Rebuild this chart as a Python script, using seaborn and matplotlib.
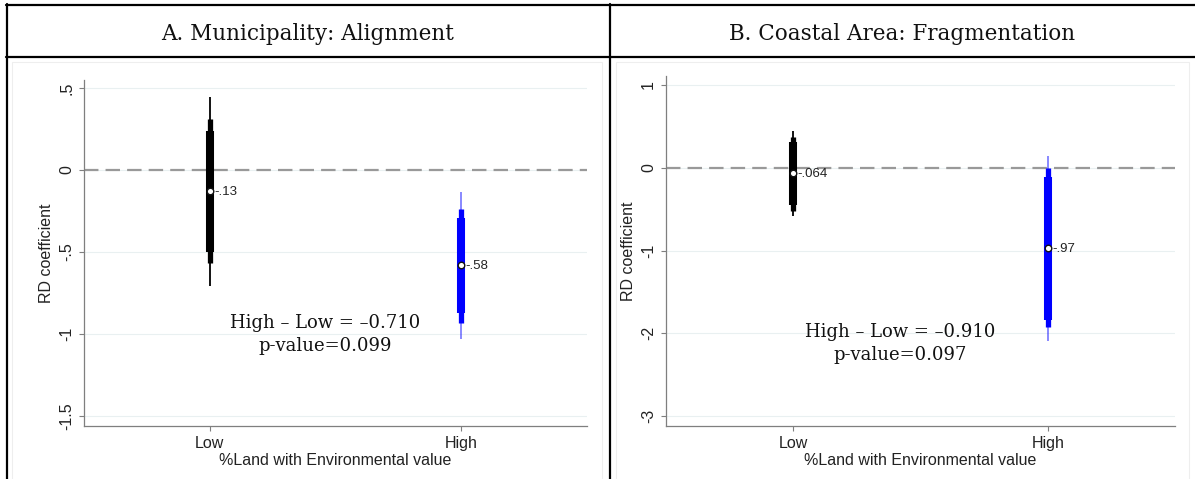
import numpy as np
import pandas as pd
import matplotlib
matplotlib.use("Agg")
import matplotlib.pyplot as plt
import seaborn as sns
from matplotlib.lines import Line2D
from matplotlib.patches import Rectangle

# categories on the x axis
groups = ["Low", "High"]
group_colors = ["#000000", "#0000ff"]
thin_alpha = [1.0, 0.5]

# Panel A: Municipality, Alignment (point estimate + 99/95/90 intervals)
a_coef = [-0.13, -0.58]
a_lo99 = [-0.707, -1.03]
a_hi99 = [0.445, -0.134]
a_lo95 = [-0.567, -0.933]
a_hi95 = [0.31, -0.238]
a_lo90 = [-0.50, -0.872]
a_hi90 = [0.238, -0.293]
a_point_labels = ["-.13", "-.58"]
a_yticks = [0.5, 0, -0.5, -1, -1.5]
a_yticklabels = [".5", "0", "-.5", "-1", "-1.5"]
a_ylim = (-1.561, 0.549)
a_note = ["High \u2013 Low = \u20130.710", "p-value=0.099"]
a_note_y = [-0.963, -1.104]
a_title = "A. Municipality: Alignment"

# Panel B: Coastal Area, Fragmentation
b_coef = [-0.064, -0.97]
b_lo99 = [-0.58, -2.09]
b_hi99 = [0.44, 0.145]
b_lo95 = [-0.52, -1.93]
b_hi95 = [0.37, 0.0]
b_lo90 = [-0.45, -1.84]
b_hi90 = [0.31, -0.11]
b_point_labels = ["-.064", "-.97"]
b_yticks = [1, 0, -1, -2, -3]
b_yticklabels = ["1", "0", "-1", "-2", "-3"]
b_ylim = (-3.121, 1.109)
b_note = ["High \u2013 Low = \u20130.910", "p-value=0.097"]
b_note_y = [-2.04, -2.32]
b_title = "B. Coastal Area: Fragmentation"

W, H = 1195, 479
sns.set_style("white")
plt.rcParams["font.family"] = ["Liberation Sans", "DejaVu Sans"]

fig = plt.figure(figsize=(W / 100, H / 100), dpi=100)
fig.patch.set_facecolor("white")

GRID = "#e9f0f1"
SPINE = "#7f7f7f"


def draw_panel(ax, coef, lo99, hi99, lo95, hi95, lo90, hi90, plabels,
               yticks, yticklabels, ylim, note, note_y, note_x):
    df = pd.DataFrame({"group": groups, "coef": coef})
    xpos = np.arange(len(groups))

    for y in yticks:
        ax.axhline(y, color=GRID, lw=0.8, zorder=0)
    ax.axhline(0, color="#999999", lw=1.6, ls=(0, (6.5, 3.2)), zorder=1)

    for i in xpos:
        c = group_colors[i]
        ax.vlines(i, lo99[i], hi99[i], color=c, alpha=thin_alpha[i], lw=1.3, zorder=2)
        ax.vlines(i, lo95[i], hi95[i], color=c, lw=3.8, zorder=3)
        ax.vlines(i, lo90[i], hi90[i], color=c, lw=5.8, zorder=4)

    sns.scatterplot(data=df, x="group", y="coef", ax=ax, s=22, color="white",
                    edgecolor="#111111", linewidth=1.0, zorder=5, legend=False)

    for i in xpos:
        ax.annotate(plabels[i], (i, coef[i]), xytext=(3.2, -0.5),
                    textcoords="offset points", ha="left", va="center",
                    fontsize=9.5, color="#222222", zorder=6)

    for txt, y in zip(note, note_y):
        ax.text(note_x, y, txt, ha="center", va="baseline", fontsize=13,
                family=["DejaVu Serif"], color="#111111", zorder=6)

    ax.set_xlim(-0.5, 1.5)
    ax.set_ylim(*ylim)
    ax.set_xticks(xpos)
    ax.set_xticklabels(groups, fontsize=11.5, color="#222222")
    ax.set_yticks(yticks)
    ax.set_yticklabels(yticklabels, rotation=90, va="center", fontsize=11.5,
                       color="#222222")
    ax.tick_params(axis="both", length=3.6, width=0.8, color=SPINE, pad=3.5,
                   left=True, bottom=True)
    ax.set_xlabel("%Land with Environmental value", fontsize=11.5,
                  color="#222222", labelpad=1.5)
    ax.set_ylabel("RD coefficient", fontsize=11.5, color="#222222", labelpad=4)
    for s in ["top", "right"]:
        ax.spines[s].set_visible(False)
    for s in ["left", "bottom"]:
        ax.spines[s].set_color(SPINE)
        ax.spines[s].set_linewidth(0.9)
    ax.set_facecolor("white")


def px_axes(x0, x1, top, bottom):
    return fig.add_axes([x0 / W, 1 - bottom / H, (x1 - x0) / W, (bottom - top) / H])


# faint graph-region outlines behind the plots
for (x0, x1) in [(12, 602), (616, 1189)]:
    fig.patches.append(Rectangle((x0 / W, -0.1), (x1 - x0) / W, (H - 62) / H + 0.1,
                                 transform=fig.transFigure, fill=False,
                                 edgecolor="#eeeeee", lw=0.8, zorder=0))

ax_a = px_axes(84, 587, 80, 426)
draw_panel(ax_a, a_coef, a_lo99, a_hi99, a_lo95, a_hi95, a_lo90, a_hi90,
           a_point_labels, a_yticks, a_yticklabels, a_ylim, a_note, a_note_y, 0.46)

ax_b = px_axes(666, 1175, 76, 426)
draw_panel(ax_b, b_coef, b_lo99, b_hi99, b_lo95, b_hi95, b_lo90, b_hi90,
           b_point_labels, b_yticks, b_yticklabels, b_ylim, b_note, b_note_y, 0.42)

# table frame around the two panels
def fig_line(xs, ys):
    fig.add_artist(Line2D([x / W for x in xs], [1 - y / H for y in ys],
                          transform=fig.transFigure, color="black", lw=1.6))

fig_line([6, W], [5, 5])
fig_line([6, W], [57, 57])
fig_line([7, 7], [4, H])
fig_line([610, 610], [4, H])

fig.text(308 / W, 1 - 40 / H, a_title, ha="center", va="baseline", fontsize=15.5,
         family=["DejaVu Serif"], color="#111111")
fig.text(902 / W, 1 - 40 / H, b_title, ha="center", va="baseline", fontsize=15.5,
         family=["DejaVu Serif"], color="#111111")

fig.savefig("out.png", dpi=100, facecolor="white")
